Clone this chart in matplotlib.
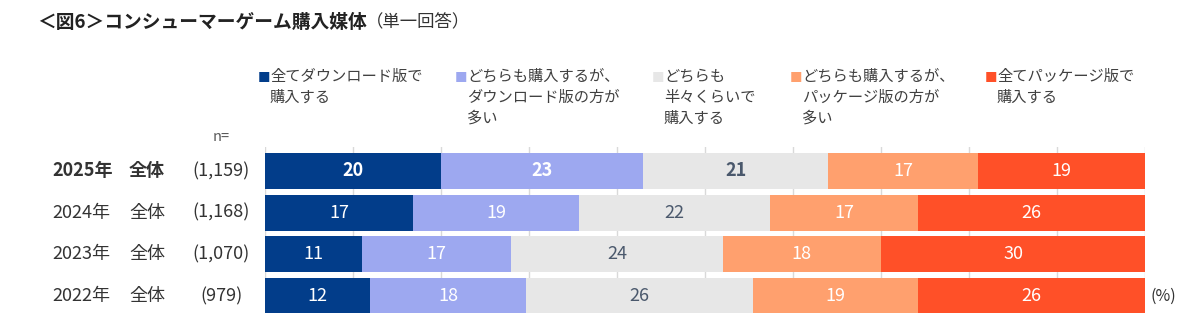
import matplotlib
matplotlib.use("Agg")
import matplotlib.pyplot as plt
import numpy as np
from matplotlib.transforms import blended_transform_factory

plt.rcParams['font.family'] = ['Noto Sans CJK JP', 'DejaVu Sans']

# data
years = ['2025年', '2024年', '2023年', '2022年']
groups = ['全体', '全体', '全体', '全体']
n_labels = ['(1,159)', '(1,168)', '(1,070)', '(979)']
categories = ['全てダウンロード版で\n購入する',
              'どちらも購入するが、\nダウンロード版の方が\n多い',
              'どちらも\n半々くらいで\n購入する',
              'どちらも購入するが、\nパッケージ版の方が\n多い',
              '全てパッケージ版で\n購入する']
values = np.array([
    [20, 23, 21, 17, 19],
    [17, 19, 22, 17, 26],
    [11, 17, 24, 18, 30],
    [12, 18, 26, 19, 26],
])
colors = ['#023D8A', '#9DA8F0', '#E7E7E7', '#FFA06E', '#FF5028']
label_colors = ['white', 'white', '#4A586C', 'white', 'white']
# first three categories of the latest year are printed in bold
bold_cats = [0, 1, 2]

W, H = 1200, 331
fig = plt.figure(figsize=(12, 3.31), dpi=100)

def fx(px):
    return px / W

def fy(py):
    return 1 - py / H

ax = fig.add_axes([fx(265), fy(313), fx(1145) - fx(265), fy(147) - fy(313)])

# each row drawn as share of its own total, so bars fill to 100
widths = values / values.sum(axis=1, keepdims=True) * 100
lefts = np.hstack([np.zeros((len(years), 1)), np.cumsum(widths, axis=1)[:, :-1]])
ypos = np.arange(len(years))

for j in range(len(categories)):
    bars = ax.barh(ypos, widths[:, j], left=lefts[:, j], height=0.86,
                   color=colors[j], edgecolor='none', zorder=2)
    for i, bar in enumerate(bars):
        cx = bar.get_x() + bar.get_width() / 2
        bold = (i == 0 and j in bold_cats)
        ax.text(cx, i, str(values[i, j]), ha='center', va='center',
                fontsize=13, color=label_colors[j],
                fontweight='bold' if bold else 'normal', zorder=3)

ax.set_xlim(0, 100)
ax.set_ylim(3.41, -0.576)
ax.set_xticks(np.arange(0, 101, 10))
ax.grid(True, axis='x', color='#D9D9D9', linewidth=1, zorder=0)
ax.tick_params(left=False, bottom=False, labelleft=False, labelbottom=False)
for s in ax.spines.values():
    s.set_visible(False)

# row labels on the left
tr = blended_transform_factory(fig.transFigure, ax.transData)
for i in range(len(years)):
    w = 'bold' if i == 0 else 'normal'
    ax.text(fx(52), i, years[i], transform=tr, ha='left', va='center',
            fontsize=13, color='#333333', fontweight=w)
    ax.text(fx(129), i, groups[i], transform=tr, ha='left', va='center',
            fontsize=13, color='#333333', fontweight=w)
    ax.text(fx(221), i, n_labels[i], transform=tr, ha='center', va='center',
            fontsize=13, color='#333333')
ax.text(fx(1150), 3, '(%)', transform=tr, ha='left', va='center',
        fontsize=11.5, color='#333333')
fig.text(fx(221), fy(137), 'n=', ha='center', va='center', fontsize=10.5, color='#595959')

# title
fig.text(fx(37), fy(22), '＜図6＞コンシューマーゲーム購入媒体', ha='left', va='center',
         fontsize=13.5, fontweight='bold', color='#222222')
fig.text(fx(366), fy(22), '（単一回答）', ha='left', va='center',
         fontsize=12.5, color='#333333')

# legend
leg_x = [258, 455, 652, 790, 985]
for j, lab in enumerate(categories):
    fig.text(fx(leg_x[j]), fy(78), '■', ha='left', va='center', fontsize=9, color=colors[j])
    fig.text(fx(leg_x[j] + 12), fy(68), lab, ha='left', va='top', fontsize=11,
             color='#404040', linespacing=1.3)

fig.savefig('out.png', dpi=100)
